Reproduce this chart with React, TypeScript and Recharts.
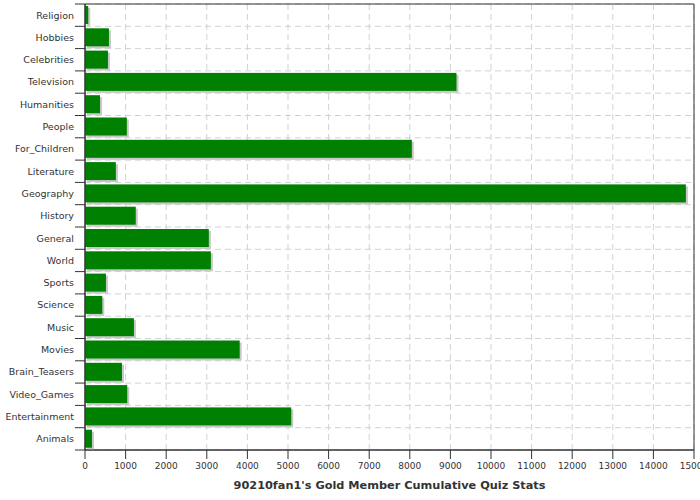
import {
  BarChart,
  Bar,
  XAxis,
  YAxis,
  CartesianGrid,
  ReferenceArea,
} from "recharts";
import { ReactElement } from "react";

const categories = [
  "Religion",
  "Hobbies",
  "Celebrities",
  "Television",
  "Humanities",
  "People",
  "For_Children",
  "Literature",
  "Geography",
  "History",
  "General",
  "World",
  "Sports",
  "Science",
  "Music",
  "Movies",
  "Brain_Teasers",
  "Video_Games",
  "Entertainment",
  "Animals",
];

const scores = [
  80, 590, 565, 9150, 370, 1030, 8050, 760, 14800, 1250, 3050, 3100, 516, 426,
  1205, 3810, 910, 1040, 5080, 172,
];

const xTicks = [
  0, 1000, 2000, 3000, 4000, 5000, 6000, 7000, 8000, 9000, 10000, 11000, 12000,
  13000, 14000, 15000,
];

const title = "90210fan1's Gold Member Cumulative Quiz Stats";

const ShadowBar = (props: any) => {
  const { x, y, width, height } = props;
  if (!width || width <= 0) return <g />;
  return (
    <g>
      <rect x={x + 2} y={y + 2} width={width} height={height} fill="#c8c8c8" />
      <rect x={x} y={y} width={width} height={height} fill="#008000" />
    </g>
  );
};

// category label plus tick marks on the band edges
const CategoryTick = (props: any) => {
  const { x, y, payload, index, visibleTicksCount } = props;
  const half = payload && payload.offset ? payload.offset : 11;
  const isLast = index === visibleTicksCount - 1;
  return (
    <g>
      <line x1={x + 1} x2={x + 11} y1={y - half} y2={y - half} stroke="#333" />
      {isLast && (
        <line
          x1={x + 1}
          x2={x + 11}
          y1={y + half}
          y2={y + half}
          stroke="#333"
        />
      )}
      <text
        x={x}
        y={y}
        dy="0.355em"
        textAnchor="end"
        fill="#333"
        fontSize={9.5}
      >
        {payload.value}
      </text>
    </g>
  );
};

// horizontal grid on the band edges
const bandEdges = ({ offset }: any) => {
  const rows = categories.length;
  const out: number[] = [];
  for (let i = 0; i <= rows; i++) {
    out.push(offset.top + (offset.height * i) / rows);
  }
  return out;
};

export const App = (): ReactElement => {
  const data = categories.map((name, i) => ({ name, score: scores[i] }));

  return (
    <div
      style={{
        position: "absolute",
        left: 0,
        top: 0,
        width: 700,
        height: 500,
        backgroundColor: "#fff",
        fontFamily: "DejaVu Sans",
      }}
    >
      <BarChart
        width={700}
        height={500}
        data={data}
        layout="vertical"
        margin={{ top: 4, right: 6, left: 0, bottom: 0 }}
        barCategoryGap={0}
      >
        <CartesianGrid
          stroke="#cdd3d8"
          strokeDasharray="6 4"
          horizontalCoordinatesGenerator={bandEdges}
        />
        <XAxis
          type="number"
          domain={[0, 15000]}
          ticks={xTicks}
          interval={0}
          height={50}
          tickSize={9}
          tickMargin={4}
          stroke="#333"
          tick={{ fill: "#333", fontSize: 9 }}
          label={{
            value: title,
            position: "insideBottom",
            offset: 11,
            fill: "#333",
            fontSize: 11.3,
            fontWeight: "bold",
          }}
        />
        <YAxis
          type="category"
          dataKey="name"
          width={85}
          interval={0}
          tickLine={false}
          tickSize={10}
          tickMargin={1}
          stroke="#333"
          tick={<CategoryTick />}
        />
        {/* plot frame: top and right edges */}
        <ReferenceArea
          x1={0}
          x2={15000}
          fill="none"
          fillOpacity={0}
          stroke="#333"
          strokeOpacity={1}
          ifOverflow="visible"
        />
        <Bar
          dataKey="score"
          barSize={18}
          shape={ShadowBar}
          isAnimationActive={false}
        />
      </BarChart>
    </div>
  );
};

export default App;
